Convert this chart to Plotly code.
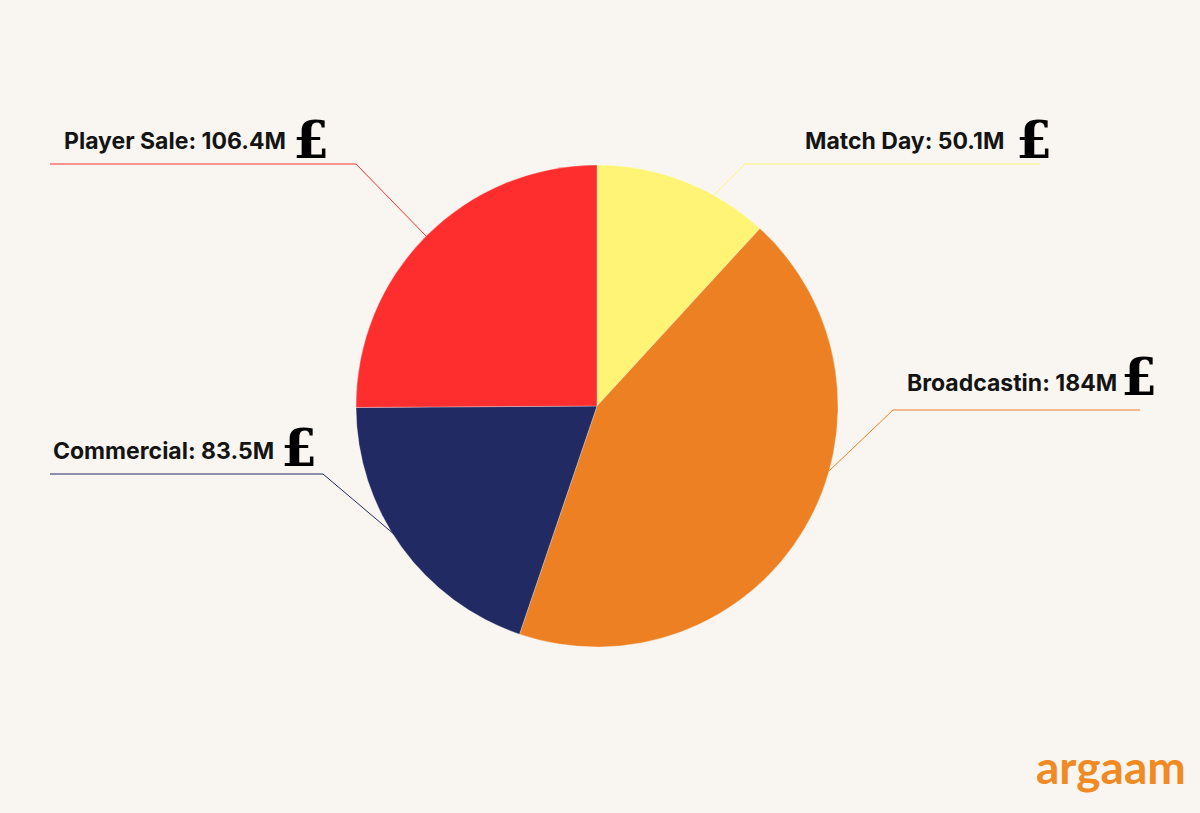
import plotly.graph_objects as go

W, H = 1200, 813

labels = ["Match Day", "Broadcastin", "Commercial", "Player Sale"]
values = [50.1, 184, 83.5, 106.4]
value_text = ["50.1M", "184M", "83.5M", "106.4M"]
colors = ["#FFF475", "#EC8022", "#212A63", "#FF2E2E"]

BG = "#F9F6F1"

def px(x):
    return x / W

def py(y):
    return 1 - y / H

cx, cy, r = 597, 406, 241

fig = go.Figure(go.Pie(
    labels=labels,
    values=values,
    sort=False,
    direction="clockwise",
    rotation=0,
    textinfo="none",
    hoverinfo="label+value",
    marker=dict(colors=colors, line=dict(color="rgba(255,255,255,0.5)", width=0.6)),
    domain=dict(x=[px(cx - r), px(cx + r)], y=[py(cy + r), py(cy - r)]),
    showlegend=False,
))

label_layout = {
    "Match Day": dict(tx=1006, ty=141, ax="right", lx=1034, ly=139,
                      line=[(713, 196), (745, 164), (1040, 164)]),
    "Broadcastin": dict(tx=1119, ty=383, ax="right", lx=1139, ly=377,
                        line=[(829, 471), (893, 410), (1140, 410)]),
    "Commercial": dict(tx=51, ty=451, ax="left", lx=299, ly=447,
                       line=[(50, 474), (323, 474), (395, 535)]),
    "Player Sale": dict(tx=62, ty=141, ax="left", lx=311, ly=139,
                        line=[(50, 164), (356, 164), (428, 238)]),
}

shapes = []
annotations = []
for lab, vt, col in zip(labels, value_text, colors):
    L = label_layout[lab]
    pts = L["line"]
    path = "M " + " L ".join(f"{px(x)},{py(y)}" for x, y in pts)
    shapes.append(dict(type="path", path=path, xref="paper", yref="paper",
                       line=dict(color=col, width=1)))
    annotations.append(dict(
        x=px(L["tx"]), y=py(L["ty"]), xref="paper", yref="paper",
        xanchor=L["ax"], yanchor="middle", showarrow=False,
        text=f"<b>{lab}: {vt}</b>",
        font=dict(family="Inter, Roboto, sans-serif", size=23, color="#141414"),
    ))
    annotations.append(dict(
        x=px(L["lx"]), y=py(L["ly"]), xref="paper", yref="paper",
        xanchor="center", yanchor="middle", showarrow=False,
        text="<b>£</b>",
        font=dict(family="DejaVu Serif, serif", size=52, color="#000000"),
    ))

annotations.append(dict(
    x=px(1188), y=py(766), xref="paper", yref="paper",
    xanchor="right", yanchor="middle", showarrow=False,
    text="<b>argaam</b>",
    font=dict(family="Lato, sans-serif", size=46, color="#F08A24"),
))

fig.update_layout(
    width=W, height=H,
    margin=dict(l=0, r=0, t=0, b=0),
    paper_bgcolor=BG, plot_bgcolor=BG,
    shapes=shapes, annotations=annotations,
)

fig.write_html("out.html", config={"displayModeBar": False},
               post_script="document.body.style.margin='0';document.body.style.background='%s';" % BG)
